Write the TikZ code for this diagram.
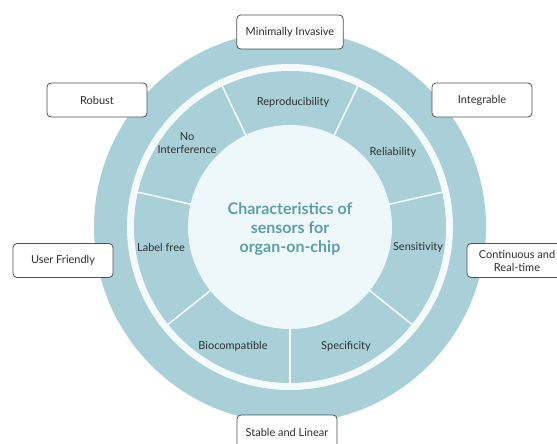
\documentclass[tikz,border=0pt]{standalone}
\usepackage{fontspec}
\setmainfont{Lato}
\usepackage{tikz}

\definecolor{ringblue}{HTML}{A9D0D9}
\definecolor{gapwhite}{HTML}{F5FBFC}
\definecolor{corefill}{HTML}{EEF7F9}
\definecolor{titleteal}{HTML}{5E9FA3}
\definecolor{textgray}{HTML}{2E2E2E}
\definecolor{boxline}{HTML}{505050}

\begin{document}
\begin{tikzpicture}[x=1pt, y=-1pt,
  prop/.style={draw=boxline, fill=white, line width=0.8pt, rounded corners=4pt,
    minimum width=100pt, minimum height=34pt, inner sep=0pt, align=center,
    text=textgray, font=\fontsize{11}{13}\selectfont},
  seglabel/.style={inner sep=0pt, align=center, text=textgray, font=\fontsize{11}{13}\selectfont},
  divider/.style={draw=white, line width=1.4pt}]
\clip (0,0) rectangle (557,444);

% rings
\fill[ringblue] (290,227) circle (196);
\fill[gapwhite] (290,227) circle (163);
\fill[ringblue] (290,227) circle (156);

% segment dividers
\begin{scope}[shift={(290,227)}]
\draw[divider] (-115.7:101) -- (-115.7:157);
\draw[divider] (-64.3:101) -- (-64.3:157);
\draw[divider] (-12.9:101) -- (-12.9:157);
\draw[divider] (38.6:101) -- (38.6:157);
\draw[divider] (90:101) -- (90:157);
\draw[divider] (141.4:101) -- (141.4:157);
\draw[divider] (-167.1:101) -- (-167.1:157);
\end{scope}

\fill[corefill] (290,227) circle (102);

% centre
\node[inner sep=0pt, align=center, text=titleteal,
  font=\fontsize{16}{19}\selectfont\bfseries] (title) at (290,229)
  {Characteristics of\\sensors for\\organ-on-chip};

% segment labels
\node[seglabel] (reproducibility) at (293,102) {Reproducibility};
\node[seglabel] (reliability) at (393,152) {Reliability};
\node[seglabel] (sensitivity) at (418,247) {Sensitivity};
\node[seglabel] (specificity) at (346,346) {Specificity};
\node[seglabel] (biocompatible) at (233,346) {Biocompatible};
\node[seglabel] (labelfree) at (161,247) {Label free};
\node[seglabel] (nointerference) at (187,143) {No\\Interference};

% outer properties
\node[prop] (invasive) at (290,32) {\hspace{9pt}Minimally Invasive\hspace{9pt}};
\node[prop] (robust) at (97,100) {Robust};
\node[prop] (integrable) at (482,100) {Integrable};
\node[prop] (friendly) at (63,260.5) {User Friendly};
\node[prop] (realtime) at (517,260.5) {Continuous and\\Real-time};
\node[prop] (stable) at (287,432) {Stable and Linear};
\end{tikzpicture}
\end{document}
